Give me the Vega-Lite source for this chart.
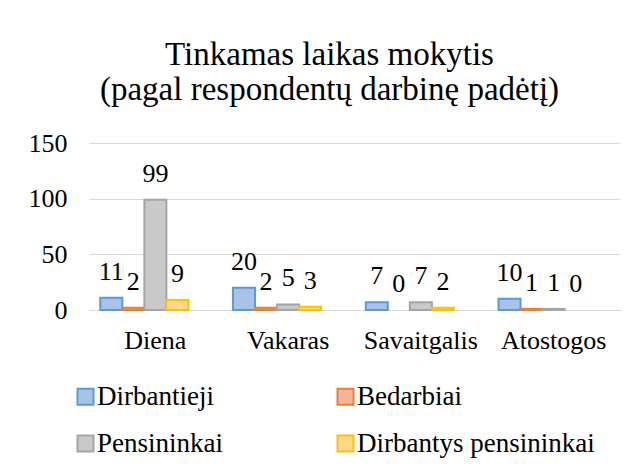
{
  "$schema": "https://vega.github.io/schema/vega-lite/v6.json",
  "width": 531,
  "height": 167,
  "autosize": {"type": "none"},
  "padding": {"left": 89, "top": 143, "right": 21, "bottom": 158},
  "background": "white",
  "config": {"font": "Liberation Serif", "view": {"stroke": null}},
  "title": {
    "text": ["Tinkamas laikas mokytis", "(pagal respondentų darbinę padėtį)"],
    "fontSize": 33,
    "fontWeight": "normal",
    "font": "Liberation Serif",
    "color": "#000000",
    "lineHeight": 35,
    "offset": 23,
    "dx": -25,
    "anchor": "middle"
  },
  "data": {
    "values": [
      {"laikas": "Diena", "grupe": "Dirbantieji", "n": 11},
      {"laikas": "Diena", "grupe": "Bedarbiai", "n": 2},
      {"laikas": "Diena", "grupe": "Pensininkai", "n": 99},
      {"laikas": "Diena", "grupe": "Dirbantys pensininkai", "n": 9},
      {"laikas": "Vakaras", "grupe": "Dirbantieji", "n": 20},
      {"laikas": "Vakaras", "grupe": "Bedarbiai", "n": 2},
      {"laikas": "Vakaras", "grupe": "Pensininkai", "n": 5},
      {"laikas": "Vakaras", "grupe": "Dirbantys pensininkai", "n": 3},
      {"laikas": "Savaitgalis", "grupe": "Dirbantieji", "n": 7},
      {"laikas": "Savaitgalis", "grupe": "Bedarbiai", "n": 0},
      {"laikas": "Savaitgalis", "grupe": "Pensininkai", "n": 7},
      {"laikas": "Savaitgalis", "grupe": "Dirbantys pensininkai", "n": 2},
      {"laikas": "Atostogos", "grupe": "Dirbantieji", "n": 10},
      {"laikas": "Atostogos", "grupe": "Bedarbiai", "n": 1},
      {"laikas": "Atostogos", "grupe": "Pensininkai", "n": 1},
      {"laikas": "Atostogos", "grupe": "Dirbantys pensininkai", "n": 0}
    ]
  },
  "encoding": {
    "x": {
      "field": "laikas",
      "type": "nominal",
      "sort": ["Diena", "Vakaras", "Savaitgalis", "Atostogos"],
      "scale": {"paddingInner": 0.17, "paddingOuter": 0.085},
      "axis": {
        "title": null,
        "labelAngle": 0,
        "labelFontSize": 26,
        "labelColor": "#000000",
        "labelFont": "Liberation Serif",
        "labelPadding": 17,
        "ticks": false,
        "domain": true,
        "domainColor": "#D9D9D9",
        "domainWidth": 1
      }
    },
    "xOffset": {
      "field": "grupe",
      "type": "nominal",
      "scale": {
        "domain": ["Dirbantieji", "Bedarbiai", "Pensininkai", "Dirbantys pensininkai", "_"],
        "paddingInner": 0,
        "paddingOuter": 0
      }
    },
    "y": {
      "field": "n",
      "type": "quantitative",
      "scale": {"domain": [0, 150]},
      "axis": {
        "title": null,
        "values": [0, 50, 100, 150],
        "grid": true,
        "gridColor": "#D9D9D9",
        "gridWidth": 1,
        "domain": false,
        "ticks": false,
        "labelFontSize": 26,
        "labelColor": "#000000",
        "labelFont": "Liberation Serif",
        "labelPadding": 22
      }
    }
  },
  "layer": [
    {
      "mark": {"type": "bar", "strokeWidth": 2},
      "encoding": {
        "fill": {
          "field": "grupe",
          "type": "nominal",
          "scale": {
            "domain": ["Dirbantieji", "Bedarbiai", "Pensininkai", "Dirbantys pensininkai"],
            "range": ["#A7C4E8", "#F4B59A", "#C9C9C9", "#FFD98A"]
          },
          "legend": {
            "title": null,
            "orient": "none",
            "legendX": -17,
            "legendY": 240,
            "direction": "horizontal",
            "columns": 2,
            "columnPadding": 109,
            "rowPadding": 19,
            "symbolType": "square",
            "symbolSize": 256,
            "symbolStrokeWidth": 2,
            "labelFontSize": 27,
            "labelFont": "Liberation Serif",
            "labelColor": "#000000",
            "labelOffset": -2,
            "labelLimit": 400
          }
        },
        "stroke": {
          "field": "grupe",
          "type": "nominal",
          "scale": {
            "domain": ["Dirbantieji", "Bedarbiai", "Pensininkai", "Dirbantys pensininkai"],
            "range": ["#5B9BD5", "#ED7D31", "#A5A5A5", "#FFC000"]
          },
          "legend": {
            "title": null,
            "orient": "none",
            "legendX": -17,
            "legendY": 240,
            "direction": "horizontal",
            "columns": 2,
            "columnPadding": 109,
            "rowPadding": 19,
            "symbolType": "square",
            "symbolSize": 256,
            "symbolStrokeWidth": 2,
            "labelFontSize": 27,
            "labelFont": "Liberation Serif",
            "labelColor": "#000000",
            "labelOffset": -2,
            "labelLimit": 400
          }
        },
        "strokeOpacity": {"condition": {"test": "datum.n === 0", "value": 0}, "value": 1}
      }
    },
    {
      "mark": {"type": "text", "baseline": "alphabetic", "dy": -18, "fontSize": 26, "font": "Liberation Serif", "color": "#000000"},
      "encoding": {"text": {"field": "n", "type": "quantitative"}}
    }
  ]
}
